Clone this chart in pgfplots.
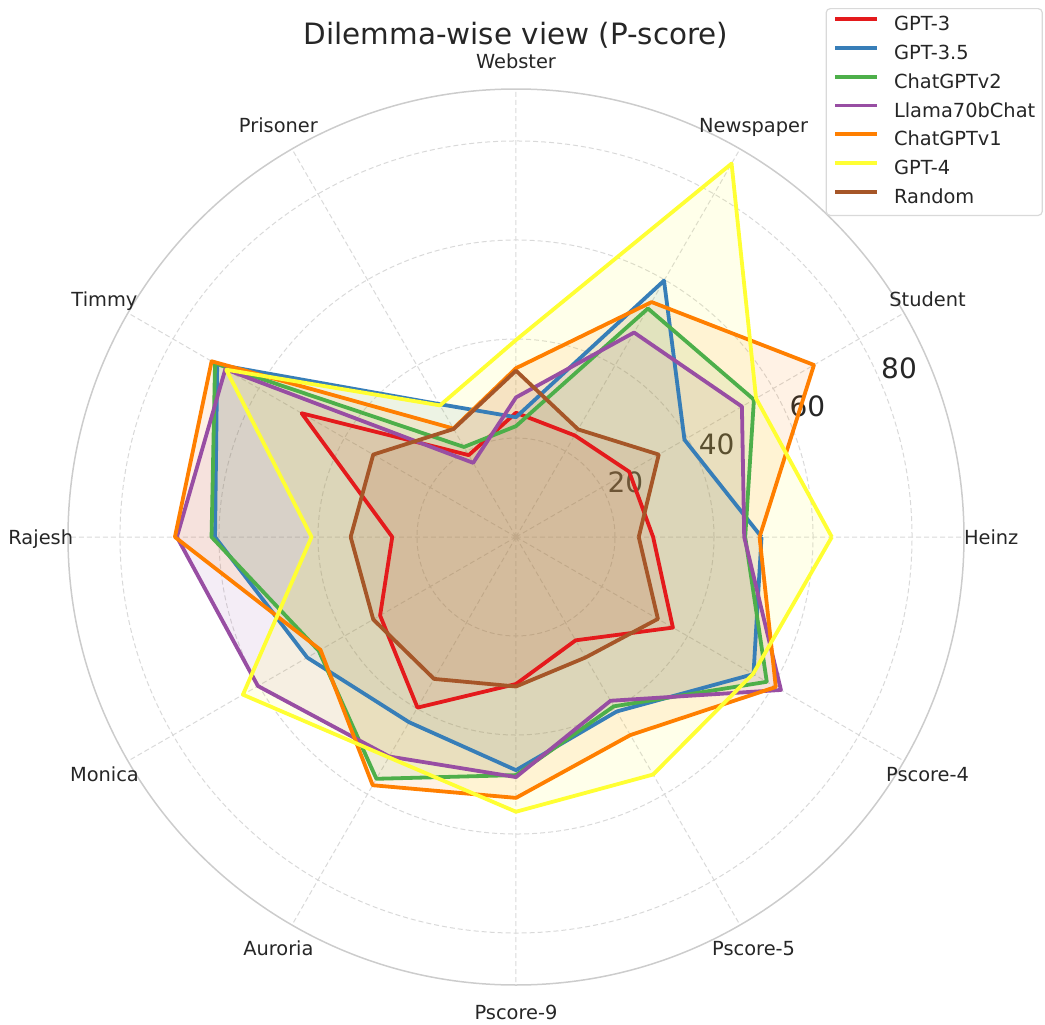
\documentclass[border=0pt]{standalone}
\usepackage{fontspec}
\setmainfont{DejaVu Sans}
\usepackage{pgfplots}
\usepackage{pgfplotstable}
\pgfplotsset{compat=1.18}
\usepgfplotslibrary{polar}
\definecolor{cRed}{HTML}{E41A1C}
\definecolor{cBlue}{HTML}{377EB8}
\definecolor{cGreen}{HTML}{4DAF4A}
\definecolor{cPurple}{HTML}{984EA3}
\definecolor{cOrange}{HTML}{FF7F00}
\definecolor{cYellow}{HTML}{FFFF33}
\definecolor{cBrown}{HTML}{A65628}
\definecolor{txt}{HTML}{262626}
\tikzset{
  cat/.style={font=\fontsize{9.7}{11}\selectfont, text=txt, inner sep=0pt, text height=7.1pt, text depth=0pt, anchor=center},
  rl/.style={font=\fontsize{14}{16}\selectfont, text=txt, inner sep=0pt, text height=10.2pt, text depth=0pt, anchor=center},
}
% angle: Heinz, Student, Newspaper, Webster, Prisoner, Timmy, Rajesh, Monica, Auroria, Pscore-9, Pscore-5, Pscore-4, (Heinz again)
\pgfplotstableread{
angle gptthree gptthreefive chatvtwo llama chatvone gptfour random
0    27.7 49.6 46.3 46.1 49.2 63.8 24.8
30   26.4 39.3 55.5 52.7 69.5 56.0 33.3
60   23.7 59.8 53.3 47.7 54.8 87.1 25.1
90   25.1 24.2 22.4 28.2 34.1 39.8 33.6
120  19.1 31.0 21.0 17.3 25.3 30.7 25.2
150  50.0 69.7 70.2 67.8 71.0 67.6 33.3
180  25.0 60.8 61.5 68.5 68.9 41.3 33.4
210  31.7 48.7 46.0 60.2 45.6 63.7 33.3
240  39.8 43.2 56.4 51.2 57.9 51.4 33.1
270  29.7 47.1 48.1 48.5 52.7 55.5 30.2
300  24.1 40.7 39.5 38.2 46.2 55.4 28.1
330  36.6 55.4 58.5 61.8 60.6 55.3 33.1
360  27.7 49.6 46.3 46.1 49.2 63.8 24.8
}\data
\begin{document}
\begin{tikzpicture}
\useasboundingbox (0,0) rectangle (522.5pt,512pt);
\node[font=\fontsize{14.7}{17}\selectfont, anchor=base, text=txt, inner sep=0pt] at (258pt,489.5pt) {Dilemma-wise view (P-score)};
\begin{polaraxis}[
  at={(258pt,243.5pt)}, anchor=center,
  scale only axis, width=448pt, height=448pt,
  ymin=0, ymax=90.5,
  xtick={0,30,...,330}, xticklabels={},
  ytick={20,40,60,80}, yticklabels={},
  xmajorgrids, ymajorgrids,
  major grid style={dash pattern=on 2.5pt off 1.5pt, gray!30, line width=0.5pt},
  separate axis lines,
  x axis line style={gray!40, line width=0.75pt},
  y axis line style={draw=none},
  major tick length=0pt,
  clip=false,
  fillst/.style={draw=none, fill=#1, fill opacity=0.1, forget plot},
  linest/.style={draw=#1, fill=none, line width=1.9pt, line join=round},
  legend style={at={(axis description cs:1.088,1.0904)}, anchor=north east,
    draw=gray!30, rounded corners=2pt, fill=white, line width=0.6pt, text=txt,
    font=\fontsize{9.7}{11}\selectfont,
    inner xsep=3.5pt, inner ysep=3.9pt,
    nodes={inner sep=0pt, text height=7.1pt, text depth=2.1pt},
    row sep=5.2pt, column sep=7.5pt},
  legend cell align=left,
  legend image code/.code={\draw[#1, fill=none, line width=1.9pt] (0pt,3.3pt) -- (21pt,3.3pt);},
]
\node[rl] at (axis cs:26.46,24.71) {20};
\node[rl] at (axis cs:24.74,44.65) {40};
\node[rl] at (axis cs:24.10,64.47) {60};
\node[rl] at (axis cs:23.77,84.55) {80};

\addplot[fillst=cRed] table[x=angle, y=gptthree] {\data};
\addplot[fillst=cBlue] table[x=angle, y=gptthreefive] {\data};
\addplot[fillst=cGreen] table[x=angle, y=chatvtwo] {\data};
\addplot[fillst=cPurple] table[x=angle, y=llama] {\data};
\addplot[fillst=cOrange] table[x=angle, y=chatvone] {\data};
\addplot[fillst=cYellow] table[x=angle, y=gptfour] {\data};
\addplot[fillst=cBrown] table[x=angle, y=random] {\data};

\addplot[linest=cRed] table[x=angle, y=gptthree] {\data};
\addlegendentry{GPT-3}
\addplot[linest=cBlue] table[x=angle, y=gptthreefive] {\data};
\addlegendentry{GPT-3.5}
\addplot[linest=cGreen] table[x=angle, y=chatvtwo] {\data};
\addlegendentry{ChatGPTv2}
\addplot[linest=cPurple] table[x=angle, y=llama] {\data};
\addlegendentry{Llama70bChat}
\addplot[linest=cOrange] table[x=angle, y=chatvone] {\data};
\addlegendentry{ChatGPTv1}
\addplot[linest=cYellow] table[x=angle, y=gptfour] {\data};
\addlegendentry{GPT-4}
\addplot[linest=cBrown] table[x=angle, y=random] {\data};
\addlegendentry{Random}

\node[cat] at (axis cs:0,96) {Heinz};
\node[cat] at (axis cs:30,96) {Student};
\node[cat] at (axis cs:60,96) {Newspaper};
\node[cat] at (axis cs:90,96) {Webster};
\node[cat] at (axis cs:120,96) {Prisoner};
\node[cat] at (axis cs:150,96) {Timmy};
\node[cat] at (axis cs:180,96) {Rajesh};
\node[cat] at (axis cs:210,96) {Monica};
\node[cat] at (axis cs:240,96) {Auroria};
\node[cat] at (axis cs:270,96) {Pscore-9};
\node[cat] at (axis cs:300,96) {Pscore-5};
\node[cat] at (axis cs:330,96) {Pscore-4};
\end{polaraxis}
\end{tikzpicture}
\end{document}
